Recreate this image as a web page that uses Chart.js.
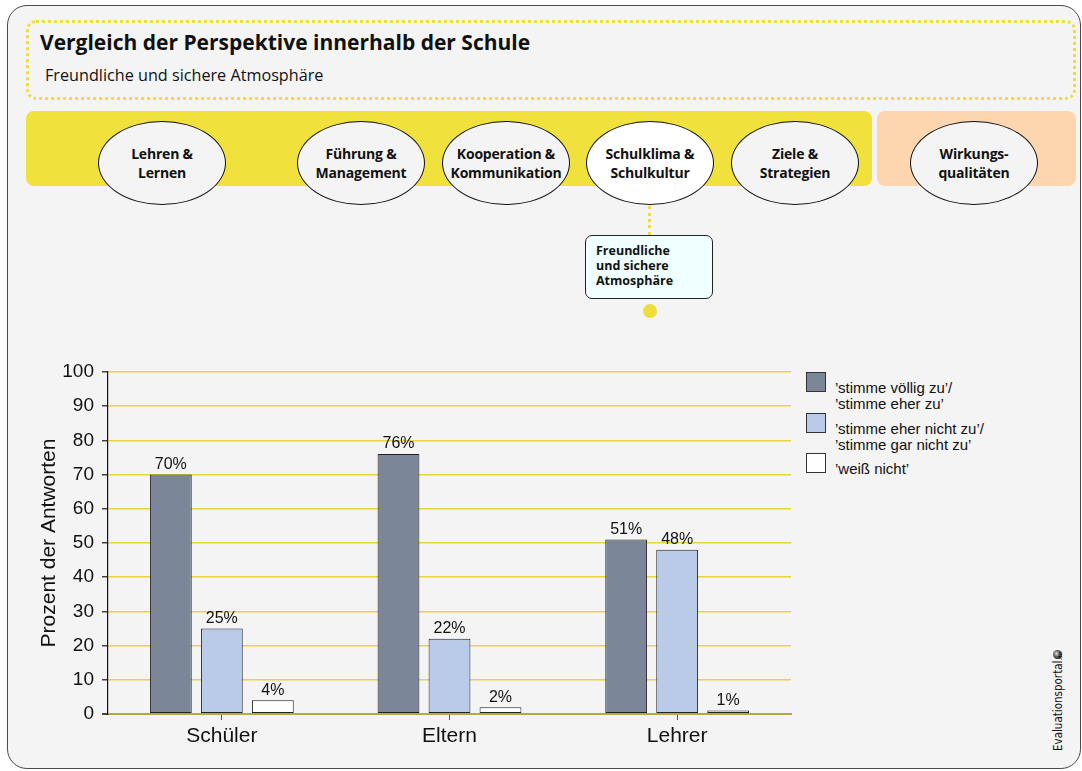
<!DOCTYPE html>
<html>
<head>
<meta charset="utf-8">
<script src="https://cdn.jsdelivr.net/npm/chart.js@4"></script>
<style>
  body { margin: 0; width: 1082px; height: 771px; overflow: hidden; background: #fff; position: relative; font-family: "Liberation Sans", Arial, sans-serif; }
  .abs { position: absolute; }
  #frame { left: 7px; top: 5px; width: 1072px; height: 762px; border: 1.5px solid #4a4a4a; border-radius: 20px; background: #f4f4f4; }
  #titlebox { left: 26px; top: 20px; width: 1044px; height: 74px; border: 3px dotted #f0dc3a; border-radius: 10px; }
  #title { left: 40px; top: 28px; font: bold 21px "Open Sans", sans-serif; color: #111; }
  #subtitle { left: 45px; top: 64px; font: 16.2px "Open Sans", sans-serif; color: #111; }
  #band1 { left: 26px; top: 111px; width: 846px; height: 75px; background: #f1e13d; border-radius: 8px; }
  #band2 { left: 877px; top: 111px; width: 199px; height: 75px; background: #fdd6b0; border-radius: 8px; }
  .ell { top: 121px; width: 126px; height: 82px; border: 1.6px solid #111; border-radius: 50%; background: #f4f4f4;
         display: flex; align-items: center; justify-content: center; text-align: center;
         font: bold 14px/19px "Open Sans", sans-serif; color: #111; letter-spacing: -0.2px; }
  #vline { left: 648px; top: 206px; height: 29px; border-left: 3px dotted #f0dc3a; }
  #callout { left: 585px; top: 235px; width: 128px; height: 64px; border: 1.2px solid #222; border-radius: 7px; background: #f0ffff;
             font: bold 12.5px/15px "Open Sans", sans-serif; color: #111; padding: 7px 0 0 10px; box-sizing: border-box; }
  #dot { left: 643px; top: 304px; width: 14px; height: 14px; border-radius: 50%; background: #f0dc3a; }
  #chart { left: 0; top: 340px; }
  .lbox { left: 806px; width: 18px; height: 18px; border: 1px solid #333; }
  .ltxt { left: 835px; font: 15px/16px "Liberation Sans", Arial, sans-serif; color: #111; white-space: nowrap; }
  #logo { left: 1051px; top: 751px; transform-origin: 0 0; transform: rotate(-90deg); font: 11.5px "Liberation Sans Narrow", "DejaVu Sans Condensed", sans-serif; color: #111; white-space: nowrap; }
  #logo small { font-size: 6px; }
  #logodot { left: 1053px; top: 650px; width: 9px; height: 9px; border-radius: 50%; background: radial-gradient(circle at 40% 40%, #ddd 0, #666 40%, #111 80%); }
</style>
</head>
<body>
<div id="frame" class="abs"></div>
<div id="titlebox" class="abs"></div>
<div id="title" class="abs">Vergleich der Perspektive innerhalb der Schule</div>
<div id="subtitle" class="abs">Freundliche und sichere Atmosphäre</div>
<div id="band1" class="abs"></div>
<div id="band2" class="abs"></div>
<div class="abs ell" style="left:98px">Lehren &amp;<br>Lernen</div>
<div class="abs ell" style="left:297px">Führung &amp;<br>Management</div>
<div class="abs ell" style="left:442px">Kooperation &amp;<br>Kommunikation</div>
<div class="abs ell" style="left:586px;background:#fff">Schulklima &amp;<br>Schulkultur</div>
<div class="abs ell" style="left:731px">Ziele &amp;<br>Strategien</div>
<div class="abs ell" style="left:910px">Wirkungs-<br>qualitäten</div>
<div id="vline" class="abs"></div>
<div id="callout" class="abs">Freundliche<br>und sichere<br>Atmosphäre</div>
<div id="dot" class="abs"></div>

<canvas id="chart" class="abs" width="800" height="431"></canvas>
<div id="legend"></div>

<div id="logodot" class="abs"></div>
<div id="logo" class="abs">Evaluationsportal<small>.de</small></div>

<script>
const categories = ['Schüler', 'Eltern', 'Lehrer'];
const seriesLabels = [
  ['’stimme völlig zu’/', '’stimme eher zu’'],
  ['’stimme eher nicht zu’/', '’stimme gar nicht zu’'],
  ['’weiß nicht’']
];
const zustimmung = [70, 76, 51];
const ablehnung = [25, 22, 48];
const weissNicht = [4, 2, 1];
const yTicks = [0, 10, 20, 30, 40, 50, 60, 70, 80, 90, 100];
const barColors = ['#7b8799', '#b9cbe8', '#ffffff'];

// legende als html
const legendTops = [372, 413, 453];
const legend = document.getElementById('legend');
seriesLabels.forEach((lines, i) => {
  const box = document.createElement('div');
  box.className = 'abs lbox';
  box.style.top = legendTops[i] + 'px';
  box.style.background = barColors[i];
  legend.appendChild(box);
  lines.forEach((t, j) => {
    const el = document.createElement('div');
    el.className = 'abs ltxt';
    el.style.top = (legendTops[i] + 8 + j * 16) + 'px';
    el.textContent = t;
    legend.appendChild(el);
  });
});

const valueLabels = {
  id: 'valueLabels',
  afterDatasetsDraw(chart) {
    const c = chart.ctx;
    c.save();
    c.font = '16px "Liberation Sans", Arial, sans-serif';
    c.fillStyle = '#111';
    c.textAlign = 'center';
    c.textBaseline = 'bottom';
    chart.data.datasets.forEach((ds, i) => {
      chart.getDatasetMeta(i).data.forEach((bar, j) => {
        c.fillText(ds.data[j] + '%', bar.x, bar.y - 2);
      });
    });
    c.restore();
  }
};

const ctx = document.getElementById('chart').getContext('2d');
new Chart(ctx, {
  type: 'bar',
  data: {
    labels: categories,
    datasets: [
      { label: seriesLabels[0].join(' '), data: zustimmung, backgroundColor: barColors[0] },
      { label: seriesLabels[1].join(' '), data: ablehnung, backgroundColor: barColors[1] },
      { label: seriesLabels[2].join(' '), data: weissNicht, backgroundColor: barColors[2] }
    ]
  },
  options: {
    responsive: false,
    animation: false,
    devicePixelRatio: 1,
    layout: { padding: { top: 32, right: 9, bottom: 0, left: 0 } },
    datasets: {
      bar: { categoryPercentage: 0.672, barPercentage: 0.82, borderWidth: 1, borderColor: '#222', borderSkipped: false }
    },
    scales: {
      x: {
        afterFit: s => { s.height = 57; },
        grid: { offset: false, drawOnChartArea: false, drawTicks: true, tickLength: 6, tickColor: '#555' },
        border: { color: '#b5a843', width: 2 },
        ticks: { padding: 4, color: '#111', font: { family: '"Liberation Sans", Arial, sans-serif', size: 21 } }
      },
      y: {
        min: 0, max: 100,
        afterFit: s => { s.width = 108; },
        afterBuildTicks: s => { s.ticks = yTicks.map(v => ({ value: v })); },
        grid: {
          color: c => c.tick && c.tick.value === 0 ? '#b5a843' : '#e8d43c',
          lineWidth: c => c.tick && c.tick.value === 0 ? 2 : 1.5,
          tickLength: 6,
          tickColor: '#444'
        },
        border: { color: '#111', width: 1.2 },
        ticks: { padding: 8, color: '#111', font: { family: '"Liberation Sans", Arial, sans-serif', size: 19 } },
        title: {
          display: true, text: 'Prozent der Antworten', color: '#111',
          font: { family: '"Liberation Sans", Arial, sans-serif', size: 21 },
          padding: { top: 37, bottom: 0 }
        }
      }
    },
    plugins: { legend: { display: false }, tooltip: { enabled: false } }
  },
  plugins: [valueLabels]
});
</script>
</body>
</html>
